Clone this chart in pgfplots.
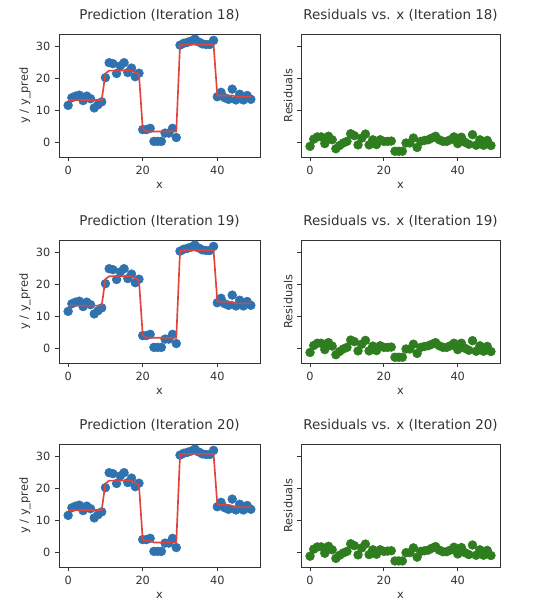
\documentclass[border=0pt]{standalone}
\usepackage{fontspec}
\setmainfont{DejaVu Sans}
\usepackage{pgfplots}
\usepackage{pgfplotstable}
\pgfplotsset{compat=1.18}
\definecolor{mblue}{HTML}{2F72B0}
\definecolor{mred}{HTML}{E2433B}
\definecolor{mgreen}{HTML}{2E7D1E}
\definecolor{ink}{HTML}{333333}

\pgfplotstableread{
x y p18 p19 p20 r18 r19 r20
0 11.5 13.2 13.3 13.2 -1.35 -1.4 -1.3
1 13.9 13.2 13.3 13.2 0.9 0.8 0.9
2 14.4 13.2 13.3 13.2 1.6 1.5 1.6
3 14.7 13.2 13.3 13.2 1.6 1.5 1.6
4 13.0 13.2 13.3 13.2 -0.5 -0.5 -0.4
5 14.4 13.2 13.3 13.2 1.8 1.7 1.8
6 13.6 13.2 13.3 13.2 0.7 0.6 0.7
7 10.7 13.2 13.3 13.2 -2.1 -2.1 -2.0
8 11.7 13.2 13.3 13.2 -1.1 -1.1 -1.0
9 12.6 13.2 13.3 13.2 -0.3 -0.3 -0.3
10 20.2 21.5 21.6 21.5 0.2 0.2 0.2
11 24.9 22.4 22.5 22.4 2.6 2.5 2.6
12 24.6 22.4 22.5 22.4 2.0 2.0 2.0
13 21.5 22.4 22.5 22.4 -0.9 -0.9 -0.9
14 23.9 22.4 22.5 22.4 1.25 1.2 1.3
15 24.9 22.4 22.5 22.4 2.5 2.4 2.5
16 21.8 22.4 22.5 22.4 -0.9 -0.9 -0.8
17 23.2 22.4 22.5 22.4 0.7 0.6 0.7
18 20.5 21.8 21.9 21.6 -0.8 -0.8 -0.7
19 21.6 21.2 21.2 21.0 0.7 0.7 0.7
20 3.9 4.2 4.0 3.8 0.2 0.2 0.2
21 3.9 3.3 3.2 3.6 0.2 0.2 0.3
22 4.3 3.3 3.2 3.6 0.3 0.3 0.4
23 0.2 3.3 3.2 3.0 -2.9 -2.9 -2.8
24 0.2 3.3 3.2 3.0 -2.9 -2.9 -2.8
25 0.2 3.3 3.2 3.0 -2.9 -2.9 -2.8
26 2.8 3.3 3.2 3.0 -0.3 -0.3 -0.2
27 2.8 3.3 3.2 3.0 -0.3 -0.3 -0.2
28 4.3 3.4 3.2 3.0 1.25 1.2 1.3
29 1.4 3.3 3.2 3.0 -1.7 -1.7 -1.6
30 30.4 30.3 30.4 30.5 0.2 0.2 0.2
31 31.0 30.6 30.7 30.8 0.5 0.5 0.4
32 31.3 30.6 30.7 30.8 0.7 0.7 0.6
33 31.7 30.6 30.7 30.8 1.25 1.2 1.2
34 32.3 30.6 30.7 30.8 1.8 1.7 1.7
35 31.4 30.6 30.7 30.8 0.7 0.7 0.6
36 30.8 30.6 30.7 30.8 0.2 0.2 0.1
37 30.6 30.6 30.7 30.8 0.2 0.2 0.1
38 30.6 30.6 30.7 30.8 0.7 0.7 0.6
39 31.9 30.6 30.7 30.8 1.6 1.5 1.5
40 14.2 14.6 14.7 14.9 -0.5 -0.5 -0.6
41 15.6 14.6 14.5 14.8 1.5 1.5 1.4
42 13.9 14.6 14.5 14.8 -0.1 -0.1 -0.2
43 13.4 14.6 14.5 14.8 -0.7 -0.7 -0.8
44 16.6 14.6 14.5 14.5 2.3 2.3 2.2
45 13.2 14.2 14.0 14.1 -1.0 -1.0 -1.0
46 15.0 14.2 14.0 14.1 0.7 0.7 0.7
47 13.2 14.2 14.0 14.1 -1.0 -1.0 -1.0
48 14.6 14.2 14.0 14.1 0.5 0.5 0.5
49 13.4 14.2 14.0 14.1 -1.1 -1.1 -1.1
}\data

\pgfplotsset{
  panel/.style={
    scale only axis, width=150.75pt, height=92.25pt,
    xmin=-2.45, xmax=51.45, ymin=-4.7, ymax=33.9,
    xtick={0,20,40}, ytick={0,10,20,30},
    tick align=outside, tick pos=left, major tick length=3pt,
    axis line style={ink, line width=0.65pt},
    tick style={ink, line width=0.65pt},
    ticklabel style={font=\fontsize{8.5}{10}\selectfont, text=ink},
    label style={font=\fontsize{8.5}{10}\selectfont, text=ink},
    title style={font=\fontsize{10.1}{12}\selectfont, text=ink,
      at={(axis description cs:0.5,1.09)}, anchor=center},
    xlabel={x},
    xlabel style={at={(axis description cs:0.5,-0.228)}, anchor=center},
    /pgf/number format/assume math mode=true,
    clip mode=individual,
    anchor=south west,
  },
  leftp/.style={panel, ylabel={y / y\_pred},
    ylabel style={at={(axis description cs:-0.169,0.5)}, anchor=center}},
  rightp/.style={panel, ylabel={Residuals}, yticklabels={},
    ylabel style={at={(axis description cs:-0.065,0.5)}, anchor=center}},
  pts/.style={only marks, mark=*, mark size=3.3pt, color=#1,
    mark options={draw=none, fill=#1}},
  predline/.style={mred, line width=1.25pt, no marks},
}

\begin{document}
\begin{tikzpicture}[x=0.75pt,y=0.75pt]
\useasboundingbox (0,0) rectangle (540,610);
% row 1
\begin{axis}[leftp, at={(44.25pt,339.75pt)}, title={Prediction (Iteration 18)}]
\addplot[pts=mblue] table[x=x,y=y]{\data};
\addplot[predline] table[x=x,y=p18]{\data};
\end{axis}
\begin{axis}[rightp, at={(225.75pt,339.75pt)}, width=149.25pt, title={Residuals vs. x (Iteration 18)}]
\addplot[pts=mgreen] table[x=x,y=r18]{\data};
\end{axis}
% row 2
\begin{axis}[leftp, at={(44.25pt,185.25pt)}, title={Prediction (Iteration 19)}]
\addplot[pts=mblue] table[x=x,y=y]{\data};
\addplot[predline] table[x=x,y=p19]{\data};
\end{axis}
\begin{axis}[rightp, at={(225.75pt,185.25pt)}, width=149.25pt, title={Residuals vs. x (Iteration 19)}]
\addplot[pts=mgreen] table[x=x,y=r19]{\data};
\end{axis}
% row 3
\begin{axis}[leftp, at={(44.25pt,32.25pt)}, title={Prediction (Iteration 20)}]
\addplot[pts=mblue] table[x=x,y=y]{\data};
\addplot[predline] table[x=x,y=p20]{\data};
\end{axis}
\begin{axis}[rightp, at={(225.75pt,32.25pt)}, width=149.25pt, title={Residuals vs. x (Iteration 20)}]
\addplot[pts=mgreen] table[x=x,y=r20]{\data};
\end{axis}
\end{tikzpicture}
\end{document}
